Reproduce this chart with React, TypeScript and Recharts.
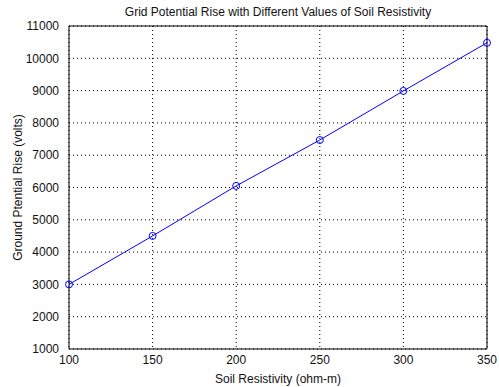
import { LineChart, Line, XAxis, YAxis, CartesianGrid, ReferenceArea, Label } from "recharts";

const resistivity = [100, 150, 200, 250, 300, 350];
const gpr = [3000, 4500, 6050, 7470, 8990, 10480];
const xTicks = [100, 150, 200, 250, 300, 350];
const yTicks = [1000, 2000, 3000, 4000, 5000, 6000, 7000, 8000, 9000, 10000, 11000];

const data = resistivity.map((r, i) => ({ r, v: gpr[i] }));

const font = "'Liberation Sans', Arial, sans-serif";

export default function App() {
  return (
    <div style={{ position: "absolute", left: 0, top: 0, width: 499, height: 387, background: "#fff", fontFamily: font }}>
      <div
        style={{
          position: "absolute",
          left: 69,
          width: 418,
          top: 5,
          textAlign: "center",
          fontSize: 12,
          color: "#111",
        }}
      >
        Grid Potential Rise with Different Values of Soil Resistivity
      </div>
      <LineChart width={499} height={387} data={data} margin={{ top: 26, right: 12, bottom: 0, left: 0 }}>
        <CartesianGrid stroke="#000" strokeDasharray="1 3" />
        <XAxis
          dataKey="r"
          type="number"
          domain={[100, 350]}
          ticks={xTicks}
          height={38}
          tickLine={false}
          axisLine={false}
          tickMargin={0}
          tick={{ fontSize: 12, fill: "#111", fontFamily: font }}
        >
          <Label value="Soil Resistivity (ohm-m)" position="insideBottom" offset={4} style={{ fontSize: 12, fill: "#111", fontFamily: font }} />
        </XAxis>
        <YAxis
          type="number"
          domain={[1000, 11000]}
          ticks={yTicks}
          width={69}
          tickLine={false}
          axisLine={false}
          tickMargin={4}
          tick={{ fontSize: 12, fill: "#111", fontFamily: font }}
        >
          <Label
            value="Ground Ptential Rise (volts)"
            angle={-90}
            position="insideLeft"
            offset={18}
            style={{ fontSize: 12, fill: "#111", fontFamily: font, textAnchor: "middle" }}
          />
        </YAxis>
        <ReferenceArea x1={100} x2={350} y1={1000} y2={11000} fill="none" stroke="#000" strokeWidth={1} ifOverflow="visible" />
        <Line
          dataKey="v"
          stroke="#0000ff"
          strokeWidth={1}
          dot={{ r: 3.5, stroke: "#0000ff", fill: "none", strokeWidth: 1 }}
          isAnimationActive={false}
        />
      </LineChart>
    </div>
  );
}
